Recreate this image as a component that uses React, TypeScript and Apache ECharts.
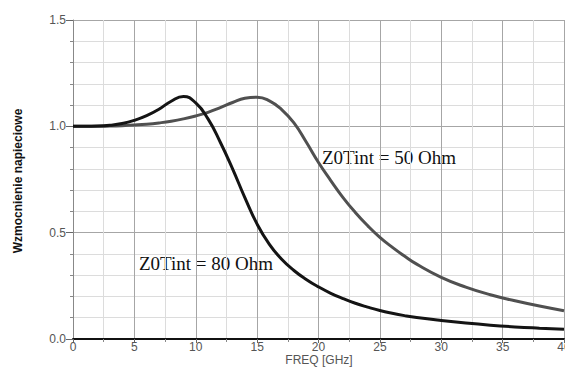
import React, { useEffect, useRef } from "react";
import * as echarts from "echarts";

const freq = [0, 1, 2, 3, 4, 5, 6, 7, 8, 9, 10, 11, 12, 13, 14, 15, 16, 17, 18, 19, 20, 21, 22, 23, 24, 25, 26, 27, 28, 30, 32, 34, 36, 38, 40];

const gain50 = [1.0, 1.0, 1.0, 1.001, 1.003, 1.006, 1.01, 1.016, 1.024, 1.035, 1.049, 1.066, 1.088, 1.112, 1.132, 1.137, 1.12, 1.079, 1.016, 0.926, 0.83, 0.745, 0.665, 0.595, 0.533, 0.478, 0.432, 0.39, 0.352, 0.29, 0.244, 0.208, 0.18, 0.155, 0.133];

const gain80 = [1.0, 1.0, 1.001, 1.005, 1.013, 1.028, 1.05, 1.08, 1.118, 1.14, 1.11, 1.035, 0.925, 0.8, 0.665, 0.54, 0.445, 0.375, 0.322, 0.28, 0.245, 0.215, 0.19, 0.168, 0.15, 0.134, 0.121, 0.11, 0.101, 0.087, 0.075, 0.065, 0.057, 0.051, 0.046];

const label50 = "Z0Tint = 50 Ohm";
const label80 = "Z0Tint = 80 Ohm";
const xName = "FREQ [GHz]";
const yName = "Wzmocnienie napieciowe";

export default function App() {
  const ref = useRef<HTMLDivElement>(null);
  useEffect(() => {
    document.body.style.margin = "0";
    document.body.style.overflow = "hidden";
    document.documentElement.style.overflow = "hidden";
    const chart = echarts.init(ref.current!, undefined, { renderer: "svg", width: 565, height: 367 });
    const sans = "'Liberation Sans', Arial, sans-serif";
    const serif = "'Liberation Serif', 'Times New Roman', serif";
    chart.setOption({
      animation: false,
      backgroundColor: "#ffffff",
      grid: { left: 73, right: 1, top: 20, bottom: 28, containLabel: false, outerBoundsMode: "none" },
      xAxis: {
        type: "value",
        min: 0,
        max: 40,
        interval: 5,
        axisLine: { show: true, onZero: false, lineStyle: { color: "#111", width: 2 } },
        axisTick: { show: true, length: 4, lineStyle: { color: "#666" } },
        minorTick: { show: true, splitNumber: 2, length: 3, lineStyle: { color: "#888" } },
        axisLabel: { color: "#555", fontFamily: sans, fontSize: 12, margin: 2, showMaxLabel: true, hideOverlap: false },
        splitLine: { show: true, lineStyle: { color: "#a6a6a6", width: 1 } },
        minorSplitLine: { show: true, lineStyle: { color: "#dcdcdc", width: 1 } },
      },
      yAxis: {
        type: "value",
        min: 0,
        max: 1.5,
        interval: 0.5,
        axisLine: { show: true, onZero: false, lineStyle: { color: "#888", width: 1 } },
        axisTick: { show: true, length: 7, lineStyle: { color: "#666" } },
        minorTick: { show: true, splitNumber: 5, length: 3, lineStyle: { color: "#888" } },
        axisLabel: {
          color: "#555",
          fontFamily: sans,
          fontSize: 12,
          margin: 7,
          padding: [0, 0, 7, 0],
          formatter: (v: number) => v.toFixed(1),
        },
        splitLine: { show: true, lineStyle: { color: "#a6a6a6", width: 1 } },
        minorSplitLine: { show: true, lineStyle: { color: "#dcdcdc", width: 1 } },
      },
      series: [
        {
          type: "line",
          name: label50,
          data: freq.map((f, i) => [f, gain50[i]]),
          smooth: 0.5,
          showSymbol: false,
          lineStyle: { color: "#505050", width: 3 },
        },
        {
          type: "line",
          name: label80,
          data: freq.map((f, i) => [f, gain80[i]]),
          smooth: 0.5,
          showSymbol: false,
          lineStyle: { color: "#141414", width: 3 },
        },
      ],
      graphic: [
        {
          type: "text",
          x: 322,
          y: 157,
          style: { text: label50, font: `19px ${serif}`, fill: "#111", verticalAlign: "middle", align: "left" },
        },
        {
          type: "text",
          x: 139,
          y: 263,
          style: { text: label80, font: `19px ${serif}`, fill: "#111", verticalAlign: "middle", align: "left" },
        },
        {
          type: "text",
          x: 319,
          y: 360,
          style: { text: xName, font: `12px ${sans}`, fill: "#555", verticalAlign: "middle", align: "center" },
        },
        {
          type: "text",
          x: 18,
          y: 181,
          rotation: Math.PI / 2,
          style: { text: yName, font: `bold 12px ${sans}`, fill: "#111", verticalAlign: "middle", align: "center" },
        },
      ],
    });
    return () => chart.dispose();
  }, []);
  return (
    <div
      ref={ref}
      style={{ position: "fixed", left: 0, top: 0, width: 565, height: 367, overflow: "hidden" }}
    />
  );
}
